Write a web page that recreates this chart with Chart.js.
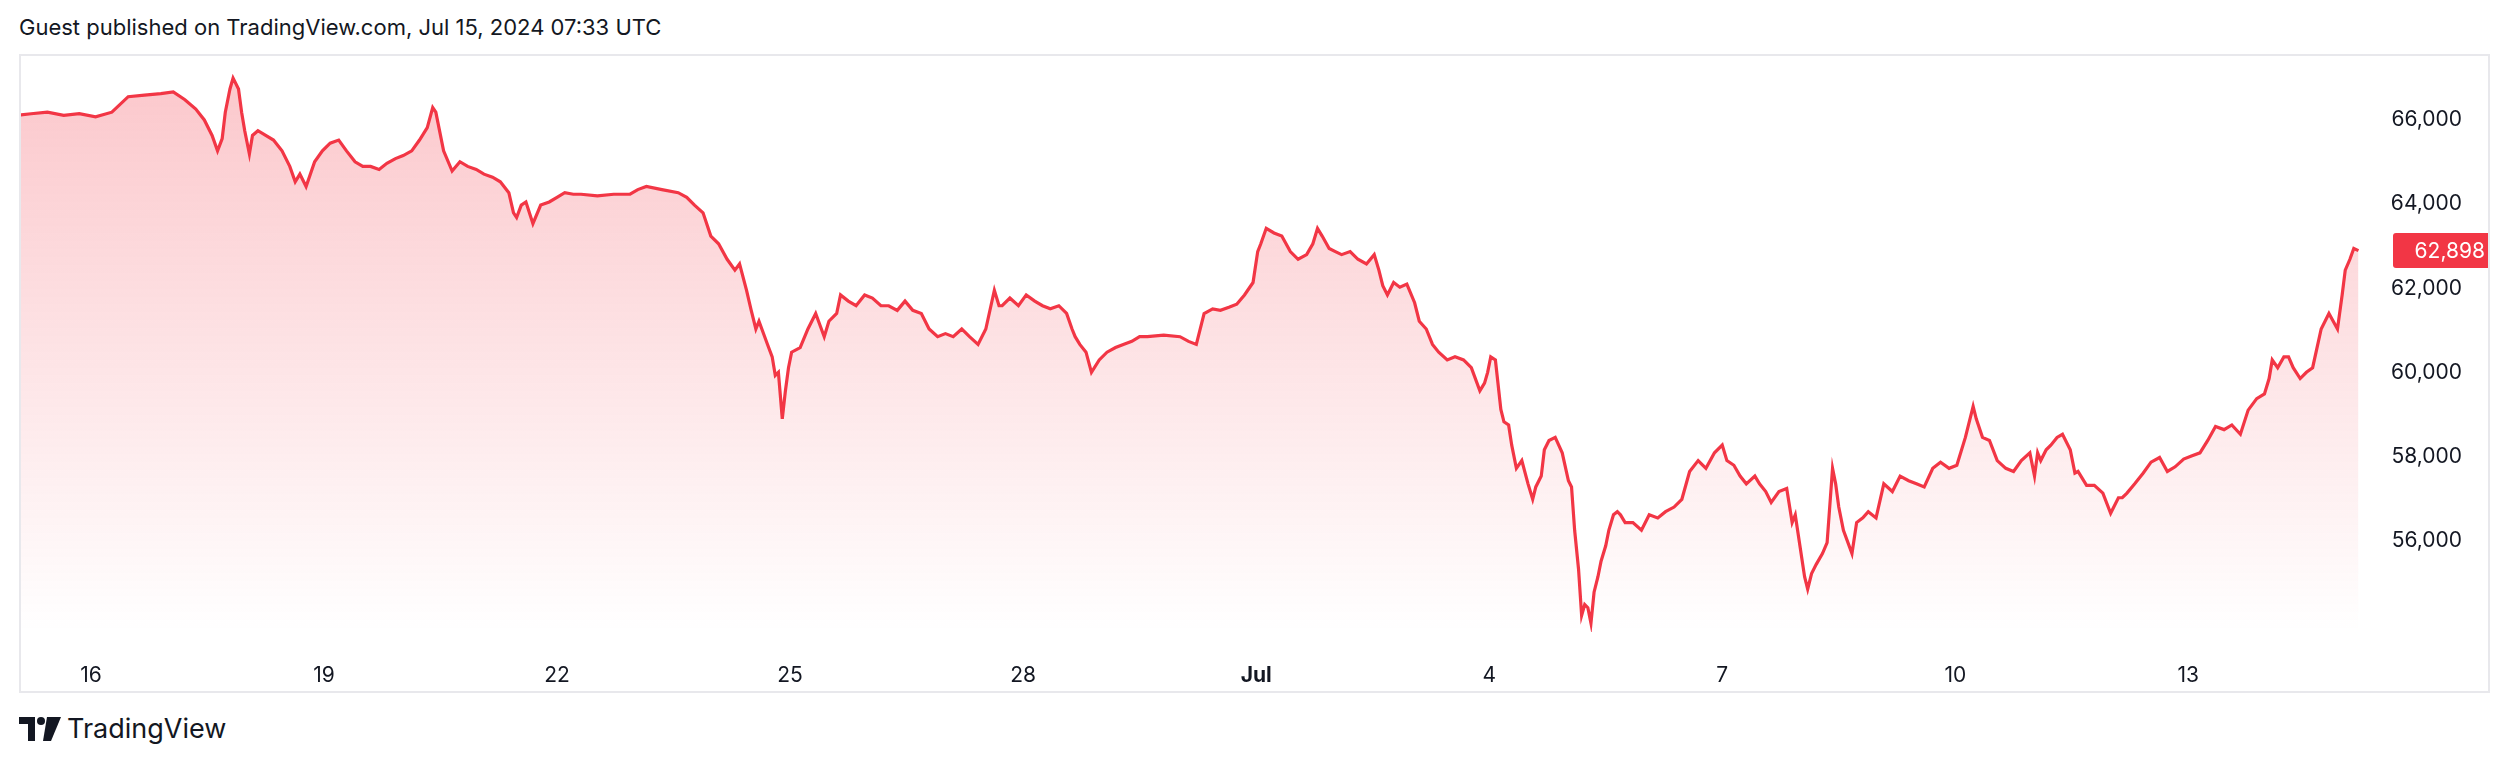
<!DOCTYPE html>
<html><head><meta charset="utf-8">
<script src="https://cdn.jsdelivr.net/npm/chart.js@4/dist/chart.umd.min.js"></script>
<style>
body{margin:0;width:2512px;height:764px;background:#fff;font-family:Inter,"Noto Sans",sans-serif;overflow:hidden;position:relative}
#title{position:absolute;left:19px;top:14px;font-size:22px;color:#131722}
#box{position:absolute;left:19px;top:54px;width:2471px;height:639px;border:2px solid #e8e8ec;box-sizing:border-box}
#c{display:block}
#foot{position:absolute;left:19px;top:712px;font-size:27px;color:#131722;display:flex;align-items:center;gap:6px}
</style></head><body>
<div id="title">Guest published on TradingView.com, Jul 15, 2024 07:33 UTC</div>
<div id="box"><canvas id="c" width="2467" height="635"></canvas></div>
<div id="foot"><svg width="42" height="24" viewBox="0 0 42 24"><path d="M0 0h16v24h-7V7H0z" fill="#131722"/><path d="M28 0h14L32 24h-8z" fill="#131722"/><circle cx="22" cy="4" r="4" fill="#131722"/></svg><span>TradingView</span></div>
<script>
const days = [15.06,15.23,15.44,15.65,15.85,16.06,16.27,16.48,16.69,16.90,17.06,17.21,17.35,17.46,17.56,17.63,17.69,17.73,17.79,17.83,17.90,17.94,17.98,18.04,18.08,18.15,18.25,18.35,18.46,18.56,18.63,18.69,18.77,18.88,18.98,19.08,19.19,19.29,19.40,19.50,19.60,19.71,19.81,19.92,20.02,20.13,20.23,20.33,20.40,20.44,20.48,20.54,20.65,20.75,20.85,20.96,21.06,21.17,21.27,21.38,21.44,21.48,21.54,21.60,21.69,21.79,21.90,22.00,22.10,22.21,22.31,22.52,22.73,22.94,23.04,23.15,23.35,23.56,23.67,23.77,23.88,23.98,24.08,24.19,24.29,24.35,24.44,24.50,24.56,24.60,24.71,24.77,24.81,24.85,24.90,24.94,24.98,25.02,25.13,25.23,25.33,25.44,25.50,25.60,25.65,25.75,25.85,25.96,26.06,26.17,26.27,26.38,26.48,26.58,26.69,26.79,26.90,27.00,27.10,27.21,27.31,27.42,27.52,27.63,27.69,27.73,27.83,27.94,28.04,28.15,28.25,28.35,28.46,28.56,28.63,28.67,28.73,28.81,28.88,28.98,29.08,29.19,29.29,29.40,29.50,29.60,29.81,30.02,30.13,30.23,30.33,30.44,30.54,30.65,30.75,30.85,30.96,31.02,31.06,31.13,31.23,31.33,31.44,31.54,31.65,31.73,31.79,31.85,31.94,32.02,32.10,32.21,32.31,32.42,32.52,32.58,32.63,32.69,32.77,32.85,32.94,33.04,33.10,33.19,33.27,33.35,33.46,33.56,33.67,33.77,33.88,33.94,33.98,34.02,34.08,34.15,34.19,34.25,34.29,34.35,34.42,34.50,34.56,34.60,34.67,34.71,34.77,34.85,34.94,35.02,35.06,35.10,35.15,35.19,35.23,35.27,35.31,35.35,35.40,35.44,35.50,35.54,35.60,35.65,35.69,35.75,35.85,35.96,36.06,36.17,36.27,36.38,36.48,36.58,36.69,36.79,36.90,37.00,37.06,37.15,37.23,37.31,37.42,37.48,37.56,37.63,37.73,37.83,37.90,37.94,38.00,38.06,38.10,38.15,38.21,38.29,38.35,38.42,38.46,38.50,38.56,38.67,38.73,38.81,38.88,38.98,39.08,39.19,39.29,39.40,39.50,39.60,39.71,39.81,39.92,40.02,40.13,40.23,40.27,40.35,40.44,40.54,40.65,40.75,40.85,40.96,41.02,41.06,41.10,41.17,41.23,41.31,41.38,41.48,41.54,41.58,41.69,41.79,41.90,42.00,42.10,42.15,42.21,42.31,42.42,42.52,42.63,42.73,42.83,42.94,43.04,43.15,43.25,43.35,43.46,43.56,43.67,43.77,43.88,43.98,44.04,44.08,44.15,44.23,44.29,44.35,44.44,44.52,44.60,44.71,44.81,44.92,44.98,45.02,45.08,45.13,45.19,45.27,45.30,45.30];
const prices = [66110,66147,66184,66110,66147,66074,66184,66551,66588,66625,66662,66478,66257,66000,65632,65265,65559,66184,66735,66993,66735,66184,65743,65191,65632,65743,65632,65522,65265,64897,64530,64713,64419,65007,65265,65449,65522,65265,65007,64897,64897,64824,64971,65081,65154,65265,65522,65816,66294,66184,65816,65265,64787,65007,64897,64824,64713,64640,64530,64272,63794,63684,63978,64052,63537,63978,64052,64162,64272,64236,64236,64199,64236,64236,64346,64419,64346,64272,64162,63978,63794,63243,63059,62692,62434,62581,61956,61479,61037,61221,60670,60376,59935,60008,58905,59567,60118,60486,60596,61037,61405,60854,61221,61405,61846,61699,61589,61846,61772,61589,61589,61479,61699,61479,61405,61037,60854,60927,60854,61037,60854,60670,61037,61956,61589,61589,61772,61589,61846,61699,61589,61515,61589,61405,61037,60854,60670,60486,60008,60302,60486,60596,60670,60743,60854,60854,60890,60854,60743,60670,61405,61515,61479,61552,61626,61846,62140,62875,63059,63427,63317,63243,62875,62692,62802,63059,63427,63243,62949,62875,62802,62875,62692,62581,62802,62434,62066,61846,62140,62030,62103,61660,61221,61037,60670,60486,60302,60376,60302,60118,59567,59751,60008,60376,60302,59126,58832,58758,58280,57729,57913,57361,56994,57288,57545,58170,58391,58464,58097,57435,57288,56259,55340,54237,54494,54421,54053,54788,55156,55524,55891,56259,56626,56700,56626,56442,56442,56259,56626,56553,56700,56810,56994,57655,57913,57729,58097,58280,57913,57802,57545,57361,57545,57361,57178,56920,57178,57251,56442,56626,55891,55156,54862,55229,55450,55707,55964,57729,57361,56810,56259,55707,56442,56553,56700,56553,57361,57178,57545,57435,57361,57288,57729,57876,57729,57802,58464,59199,58905,58464,58391,57913,57729,57655,57913,58097,57545,58097,57913,58170,58280,58464,58538,58170,57618,57655,57325,57325,57141,56664,57031,57031,57141,57361,57618,57876,57986,57655,57765,57949,58023,58097,58391,58722,58648,58758,58538,59111,59383,59494,59861,60302,60118,60376,60376,60118,59861,60008,60118,61037,61405,61037,61846,62434,62692,62949,62898];
const xTicks = [16,19,22,25,28,31,34,37,40,43];
const xTickLabels = ['16','19','22','25','28','Jul','4','7','10','13'];
const yTicks = [56000,58000,60000,62000,64000,66000];
const lastLabel = '62,898';

const RED = '#F23645';
const font = {family:'Inter, "Noto Sans", sans-serif', size:21};
const priceTag = {
  id:'priceTag',
  afterDraw(ch){
    const y = ch.scales.y.getPixelForValue(prices[prices.length-1]);
    const c = ch.ctx, x0 = ch.chartArea.right + 26, w = 101, h = 35;
    c.save();
    c.fillStyle = RED;
    c.beginPath(); c.roundRect(x0, y-h/2, w, h, 3); c.fill();
    c.fillStyle = '#fff'; c.font = '21px Inter, "Noto Sans", sans-serif';
    c.textAlign = 'right'; c.textBaseline = 'middle';
    c.fillText(lastLabel, x0 + w - 9, y+1);
    c.restore();
  }
};
const data = days.map((d,i)=>({x:d,y:prices[i]}));
new Chart(document.getElementById('c'),{
  type:'line',
  data:{datasets:[{data, borderColor:RED, borderWidth:3.2, pointRadius:0, tension:0, fill:'start',
    backgroundColor(ctx){
      const a = ctx.chart.chartArea; if(!a) return 'rgba(242,54,69,0.2)';
      const g = ctx.chart.ctx.createLinearGradient(0,a.top,0,a.bottom);
      g.addColorStop(0,'rgba(242,54,69,0.28)'); g.addColorStop(1,'rgba(242,54,69,0.0)');
      return g;
    }}]},
  options:{
    responsive:false, animation:false, devicePixelRatio:1,
    layout:{padding:{right:26,left:0,top:0,bottom:0}},
    plugins:{legend:{display:false},tooltip:{enabled:false}},
    scales:{
      x:{type:'linear', min:15.10, max:45.30, grid:{display:false}, border:{display:false},
        afterBuildTicks(s){ s.ticks = xTicks.map(v=>({value:v})); },
        afterFit(s){ s.height = 59; },
        ticks:{padding:23, color:'#131722', font:(c)=>({...font, weight: c.tick && c.tick.value===31 ? 'bold':'normal'}),
          callback:(v)=>xTickLabels[xTicks.indexOf(v)], maxRotation:0, autoSkip:false}},
      y:{position:'right', min:53844, max:67147, grid:{display:false}, border:{display:false},
        afterBuildTicks(s){ s.ticks = yTicks.map(v=>({value:v})); },
        afterFit(s){ s.width = 95; },
        ticks:{crossAlign:'far', color:'#131722', font, callback:(v)=>v.toLocaleString('en-US')}}
    }
  },
  plugins:[priceTag]
});
</script>
</body></html>
